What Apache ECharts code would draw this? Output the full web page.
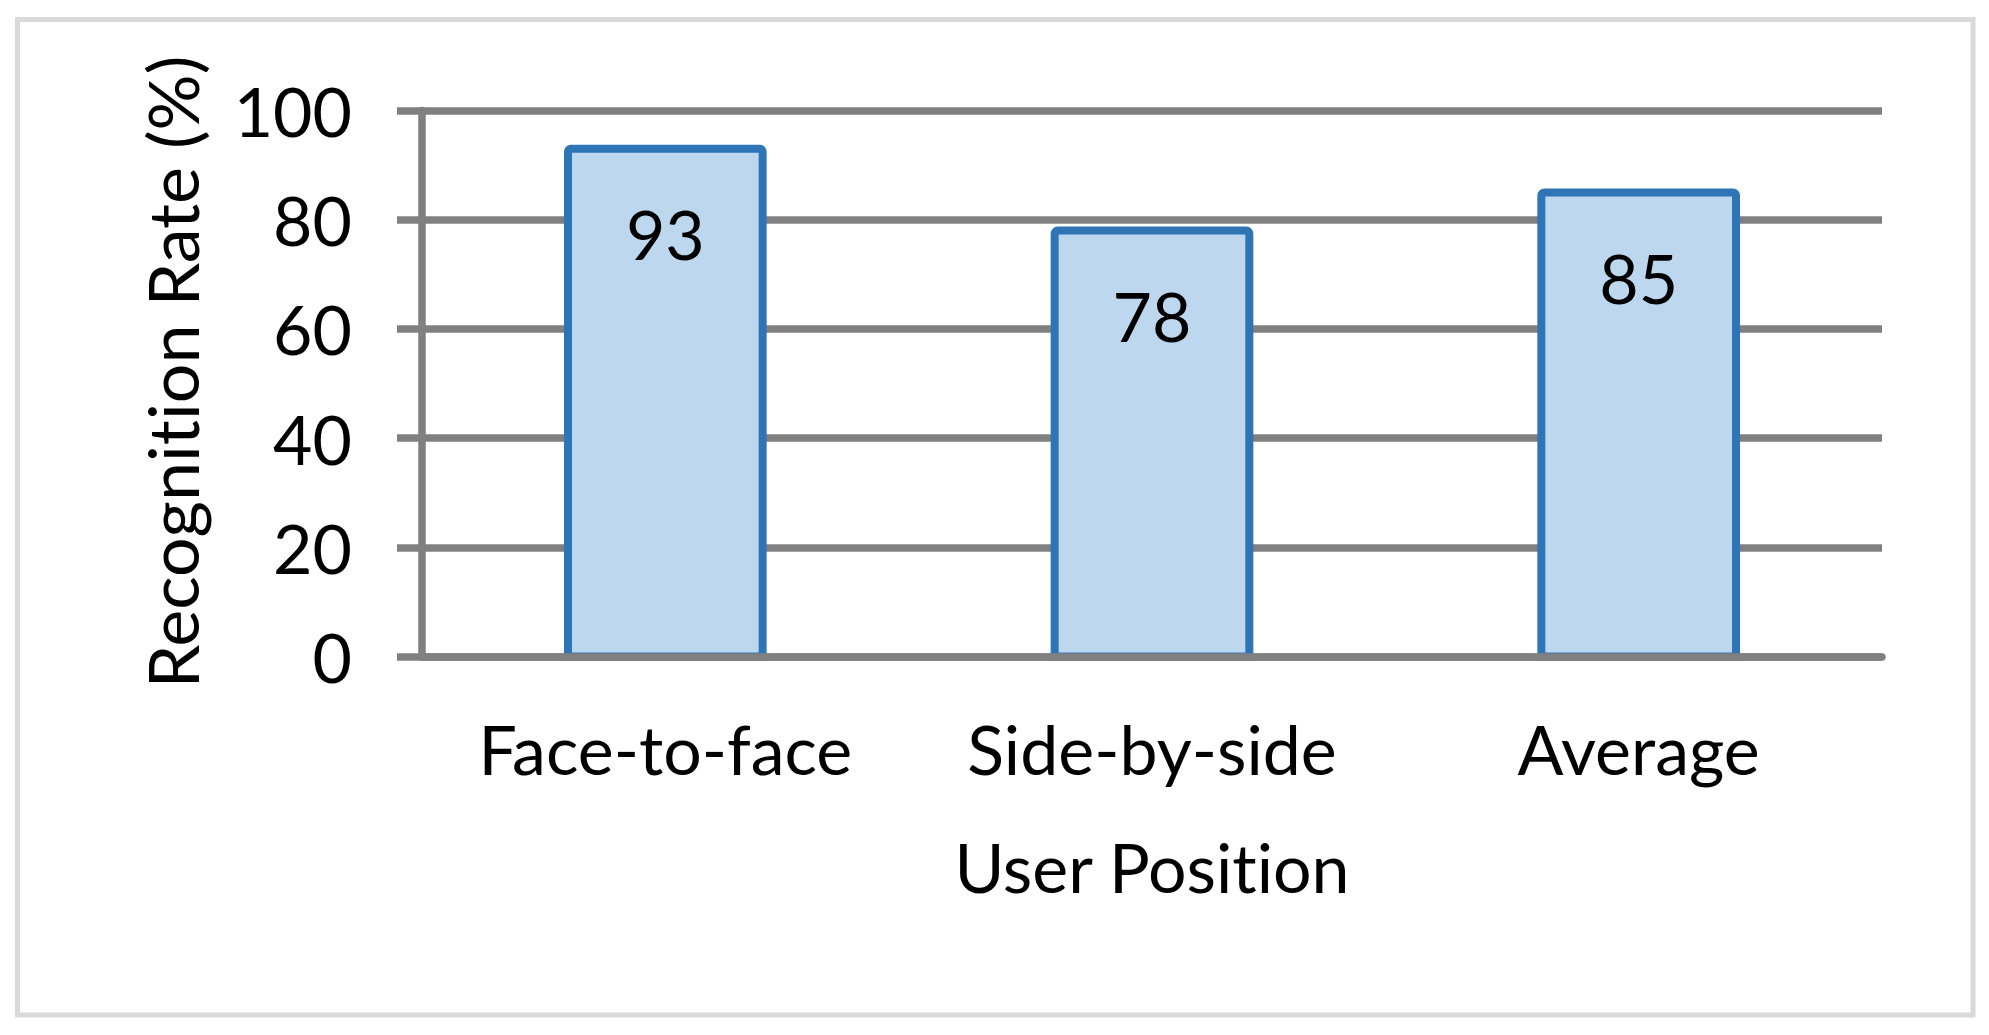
<!DOCTYPE html>
<html>
<head>
<meta charset="utf-8">
<script src="https://cdn.jsdelivr.net/npm/echarts@6/dist/echarts.min.js"></script>
<style>
  html, body { margin: 0; padding: 0; background: #fff; }
  #chart { width: 1989px; height: 1035px; }
  /* Lato joins "ti" by default, the original font does not */
  #chart text {
    font-variant-ligatures: none !important;
    font-feature-settings: "liga" 0, "clig" 0, "calt" 0, "dlig" 0 !important;
    letter-spacing: 0.01px;
  }
</style>
</head>
<body>
<div id="chart"></div>
<script>
// data
const categories = ['Face-to-face', 'Side-by-side', 'Average'];
const rates = [93, 78, 85];
const yTicks = [0, 20, 40, 60, 80, 100];

const font = 'Lato';
const grey = '#808080';

var chart = echarts.init(document.getElementById('chart'), null, { renderer: 'svg' });
chart.setOption({
  animation: false,
  backgroundColor: '#fff',
  textStyle: { fontFamily: font },
  graphic: [
    {
      type: 'rect',
      shape: { x: 17.5, y: 19.5, width: 1955.5, height: 995.5 },
      style: { fill: 'none', stroke: '#d9d9d9', lineWidth: 5 },
      z: -1
    }
  ],
  grid: { left: 422, right: 107, top: 110.5, bottom: 378.5 },
  xAxis: {
    type: 'category',
    data: categories,
    z: 5,
    name: 'User Position',
    nameLocation: 'middle',
    nameGap: 176,
    nameTextStyle: { fontSize: 68, color: '#000', fontFamily: font },
    axisLine: { lineStyle: { color: grey, width: 7.5 } },
    axisTick: { show: false },
    axisLabel: { fontSize: 68, color: '#000', margin: 58, fontFamily: font }
  },
  yAxis: {
    type: 'value',
    min: yTicks[0],
    max: yTicks[yTicks.length - 1],
    interval: 20,
    name: 'Recognition Rate (%)',
    nameLocation: 'middle',
    nameRotate: 90,
    nameGap: 215,
    nameTextStyle: { fontSize: 70, color: '#000', fontFamily: font, padding: [0, 0, 0, 23] },
    axisLine: { show: true, lineStyle: { color: grey, width: 7.5 } },
    axisTick: { show: true, length: 25, lineStyle: { color: grey, width: 7.5 } },
    splitLine: { lineStyle: { color: grey, width: 7.5 } },
    axisLabel: { fontSize: 68, color: '#000', margin: 70, fontFamily: font }
  },
  series: [
    {
      // custom bars so the outline sits centred on the value, like the original
      type: 'custom',
      data: rates.map(function (v, i) { return [i, v]; }),
      encode: { x: 0, y: 1 },
      renderItem: function (params, api) {
        var top = api.coord([api.value(0), api.value(1)]);
        var base = api.coord([api.value(0), 0]);
        var w = api.size([1, 0])[0] * 0.4;
        return {
          type: 'group',
          children: [
            {
              type: 'rect',
              shape: { x: top[0] - w / 2, y: top[1], width: w, height: base[1] - top[1], r: [3, 3, 0, 0] },
              style: { fill: '#bdd7ee', stroke: '#2e75b6', lineWidth: 8 }
            },
            {
              type: 'text',
              style: {
                text: String(api.value(1)),
                x: top[0],
                y: top[1] + 51,
                align: 'center',
                verticalAlign: 'top',
                fontSize: 68,
                fontFamily: font,
                fill: '#000'
              }
            }
          ]
        };
      }
    }
  ]
});
</script>
</body>
</html>
